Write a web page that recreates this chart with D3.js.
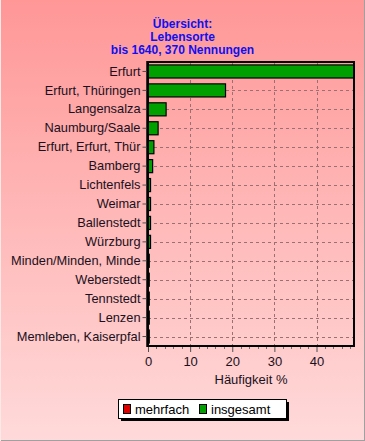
<!DOCTYPE html>
<html><head><meta charset="utf-8">
<script src="https://cdn.jsdelivr.net/npm/d3@7"></script>
<style>html,body{margin:0;padding:0;overflow:hidden}svg{display:block}</style>
</head><body><svg id="c" width="365" height="441"></svg>
<script>
const categories = ["Erfurt","Erfurt, Thüringen","Langensalza","Naumburg/Saale","Erfurt, Erfurt, Thür","Bamberg","Lichtenfels","Weimar","Ballenstedt","Würzburg","Minden/Minden, Minde","Weberstedt","Tennstedt","Lenzen","Memleben, Kaiserpfal"];
const insgesamt = [48.9,18.4,4.3,2.4,1.4,1.1,0.6,0.6,0.6,0.6,0.3,0.3,0.3,0.3,0.3];
const mehrfach = [0,0,0,0,0,0,0,0,0,0,0,0,0,0,0];
const xTicks = [0,10,20,30,40];
const titleLines = ["Übersicht:","Lebensorte","bis 1640, 370 Nennungen"];
const xLabel = "Häufigkeit %";
const seriesNames = ["mehrfach","insgesamt"];
const seriesColors = ["#e00000","#00a000"];

const W=365,H=441;
const FONT="Liberation Sans, Arial, sans-serif";
const svg=d3.select("#c");
const defs=svg.append("defs");
const g=defs.append("linearGradient").attr("id","bg").attr("x1",0).attr("y1",0).attr("x2",0).attr("y2",1);
g.append("stop").attr("offset","0%").attr("stop-color","#ff9797");
g.append("stop").attr("offset","100%").attr("stop-color","#ffdada");
svg.append("rect").attr("width",W).attr("height",H).attr("fill","url(#bg)");
svg.append("line").attr("x1",0).attr("y1",H-0.5).attr("x2",W).attr("y2",H-0.5).attr("stroke","#a0a0a0");
svg.append("line").attr("x1",W-0.5).attr("y1",0).attr("x2",W-0.5).attr("y2",H).attr("stroke","#a0a0a0");
svg.append("line").attr("x1",0.5).attr("y1",0).attr("x2",0.5).attr("y2",H).attr("stroke","#ffe8e8");

const L=148,R=354,T=62,B=346;
const x=d3.scaleLinear().domain([0,d3.max(insgesamt)]).range([L,R]);
const y=d3.scaleBand().domain(categories).range([T,B]).paddingInner(0.31).paddingOuter(0.155);

const tt=svg.append("text").attr("text-anchor","middle").attr("font-family",FONT)
 .attr("font-size",12).attr("font-weight","bold").attr("fill","#1010f0");
titleLines.forEach((t,i)=>tt.append("tspan").attr("x",182.5).attr("y",28+i*13).text(t));

const grid=svg.append("g").attr("stroke","#9a7070").attr("stroke-dasharray","3,3").attr("stroke-width",1);
xTicks.filter(d=>d>0).forEach(d=>grid.append("line").attr("x1",Math.round(x(d))+0.5).attr("x2",Math.round(x(d))+0.5).attr("y1",T).attr("y2",B));
categories.forEach(c=>{const cy=Math.round(y(c)+y.bandwidth()/2)+0.5;grid.append("line").attr("x1",L).attr("x2",R).attr("y1",cy).attr("y2",cy);});

svg.append("g").selectAll("rect").data(categories).join("rect")
 .attr("x",x(0)).attr("y",d=>y(d)).attr("width",(d,i)=>Math.max(0,x(insgesamt[i])-x(0)))
 .attr("height",y.bandwidth()).attr("fill",seriesColors[1]).attr("stroke","#000").attr("stroke-width",1.2);
svg.append("g").selectAll("rect").data(categories.filter((d,i)=>mehrfach[i]>0)).join("rect")
 .attr("x",x(0)).attr("y",d=>y(d)).attr("width",d=>x(mehrfach[categories.indexOf(d)])-x(0))
 .attr("height",y.bandwidth()).attr("fill",seriesColors[0]).attr("stroke","#000");

svg.append("rect").attr("x",L).attr("y",T).attr("width",R-L).attr("height",B-T).attr("fill","none").attr("stroke","#000").attr("stroke-width",2);
svg.append("line").attr("x1",L-0.5).attr("x2",L-0.5).attr("y1",T-1).attr("y2",B+1).attr("stroke","#000").attr("stroke-width",2.5);

const ya=svg.append("g").attr("transform",`translate(${L-1.5},0)`).call(d3.axisLeft(y).tickSize(4).tickPadding(2));
ya.select(".domain").remove();
ya.selectAll(".tick line").attr("stroke","#505050");
ya.selectAll("text").attr("font-family",FONT).attr("font-size",12.8).attr("fill","#1a1020");

const xa=svg.append("g").attr("transform",`translate(0,${B+1})`).call(d3.axisBottom(x).tickValues(xTicks).tickSize(5).tickPadding(5).tickFormat(d3.format("d")));
xa.select(".domain").remove();
xa.selectAll(".tick line").attr("stroke","#505050");
xa.selectAll("text").attr("font-family",FONT).attr("font-size",13).attr("fill","#1a1020");
const minor=d3.range(0,49,2).filter(v=>v%10!==0);
svg.append("g").selectAll("line").data(minor).join("line")
 .attr("x1",d=>Math.round(x(d))+0.5).attr("x2",d=>Math.round(x(d))+0.5).attr("y1",B+1).attr("y2",B+3).attr("stroke","#707070");

svg.append("text").attr("x",(L+R)/2).attr("y",384).attr("text-anchor","middle")
 .attr("font-family",FONT).attr("font-size",13).attr("fill","#1a1020").text(xLabel);

const lx=118,ly=399,lw=168,lh=19;
svg.append("rect").attr("x",lx+3).attr("y",ly+3).attr("width",lw).attr("height",lh).attr("fill","#000");
svg.append("rect").attr("x",lx+0.5).attr("y",ly+0.5).attr("width",lw).attr("height",lh).attr("fill","#fff").attr("stroke","#000");
const lxs=[123,199];
seriesNames.forEach((n,i)=>{
 svg.append("rect").attr("x",lxs[i]+0.5).attr("y",ly+5.5).attr("width",7).attr("height",9).attr("fill",seriesColors[i]).attr("stroke","#000");
 svg.append("text").attr("x",lxs[i]+12).attr("y",ly+14.5).attr("font-family",FONT).attr("font-size",13).attr("fill","#000").text(n);
});
</script></body></html>
